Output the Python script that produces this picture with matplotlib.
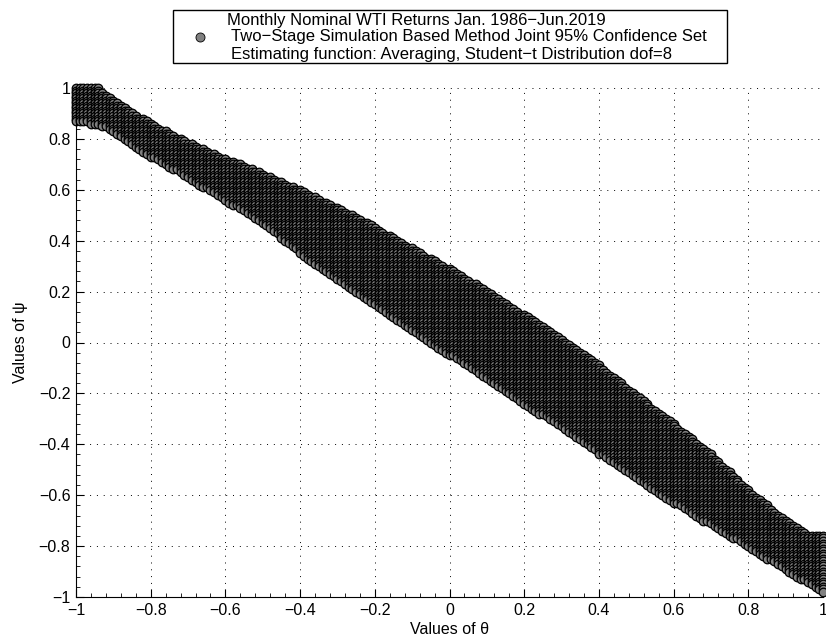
import numpy as np
import matplotlib
matplotlib.use('Agg')
from matplotlib import pyplot as plt
from matplotlib.ticker import MultipleLocator
from matplotlib.patches import Rectangle
from matplotlib.lines import Line2D

# confidence set: grid step and band edges
step = 0.01
theta_lo_knots = [-1.0, -0.93, -0.8, -0.7, -0.6, -0.5, -0.4, -0.3, -0.2, -0.1, 0.0,
                  0.1, 0.2, 0.3, 0.4, 0.5, 0.6, 0.7, 0.8, 0.9, 1.0]
psi_lo = [0.87, 0.85, 0.73, 0.645, 0.556, 0.47, 0.35, 0.25, 0.15, 0.05, -0.05,
          -0.147, -0.247, -0.33, -0.44, -0.536, -0.63, -0.718, -0.806, -0.895, -0.983]
theta_hi_knots = [-1.0, -0.94, -0.9, -0.8, -0.7, -0.6, -0.5, -0.4, -0.3, -0.2, -0.1,
                  0.0, 0.1, 0.2, 0.3, 0.4, 0.5, 0.6, 0.7, 0.8, 0.9, 0.96, 1.0]
psi_hi = [1.0, 1.0, 0.954, 0.862, 0.787, 0.723, 0.666, 0.60, 0.53, 0.455, 0.37,
          0.29, 0.205, 0.11, 0.015, -0.09, -0.205, -0.32, -0.44, -0.579, -0.698, -0.752, -0.76]

ticks = [-1, -0.8, -0.6, -0.4, -0.2, 0, 0.2, 0.4, 0.6, 0.8, 1]
tick_labels = ['\u22121', '\u22120.8', '\u22120.6', '\u22120.4', '\u22120.2', '0',
               '0.2', '0.4', '0.6', '0.8', '1']

legend_lines = ['Monthly Nominal WTI Returns Jan. 1986\u2212Jun.2019',
                'Two\u2212Stage Simulation Based Method Joint 95% Confidence Set',
                'Estimating function: Averaging, Student\u2212t Distribution dof=8']

# accepted grid points: theta ascending, psi descending inside each column
grid = np.round(np.arange(-1, 1 + step / 2, step), 2)
th, ps = [], []
for t in grid:
    lo = np.interp(t, theta_lo_knots, psi_lo)
    hi = np.interp(t, theta_hi_knots, psi_hi)
    for p in grid[::-1]:
        if lo - 1e-9 <= p <= hi + 1e-9:
            th.append(t)
            ps.append(p)

gray = (0.5, 0.5, 0.5)
W, H = 826, 642
plt.rcParams['font.family'] = ['Liberation Sans', 'DejaVu Sans']
fig = plt.figure(figsize=(W / 100, H / 100), dpi=100)
ax = fig.add_axes([76 / W, 45 / H, 747 / W, 509 / H])

ax.scatter(th, ps, s=38, c=[gray], edgecolors='black', linewidths=0.9,
           zorder=2, clip_on=False)

ax.set_xlim(-1, 1)
ax.set_ylim(-1, 1)
ax.set_xticks(ticks)
ax.set_xticklabels(tick_labels)
ax.set_yticks(ticks)
ax.set_yticklabels(tick_labels)
ax.xaxis.set_minor_locator(MultipleLocator(0.04))
ax.yaxis.set_minor_locator(MultipleLocator(0.04))
ax.tick_params(which='both', direction='in', labelsize=11.5, top=False, right=False)
ax.tick_params(which='major', length=6, width=0.8, pad=4)
ax.tick_params(which='minor', length=3, width=0.6)
ax.spines['top'].set_visible(False)
ax.spines['right'].set_visible(False)
ax.grid(True, linestyle=(0, (1, 6)), color='black', linewidth=0.7)
ax.set_axisbelow(True)

ax.set_xlabel('Values of \u03b8', fontsize=11.5, labelpad=3)
ax.set_ylabel('Values of \u03c8', fontsize=11.5, labelpad=8)

# legend box drawn by hand to match the original layout
fig.patches.append(Rectangle((173 / W, 1 - 63 / H), 554 / W, 53 / H, transform=fig.transFigure,
                             facecolor='white', edgecolor='black', linewidth=1.0))
fig.lines.append(Line2D([200 / W], [1 - 37 / H], transform=fig.transFigure, marker='o',
                        markersize=6.5, markerfacecolor=gray, markeredgecolor='black',
                        markeredgewidth=0.6, linestyle='none'))
x_left = [227, 231, 231]
for i, line in enumerate(legend_lines):
    fig.text(x_left[i] / W, 1 - (20 + 17 * i) / H, line, fontsize=12.0, ha='left', va='center')

fig.savefig('out.png', dpi=100)
